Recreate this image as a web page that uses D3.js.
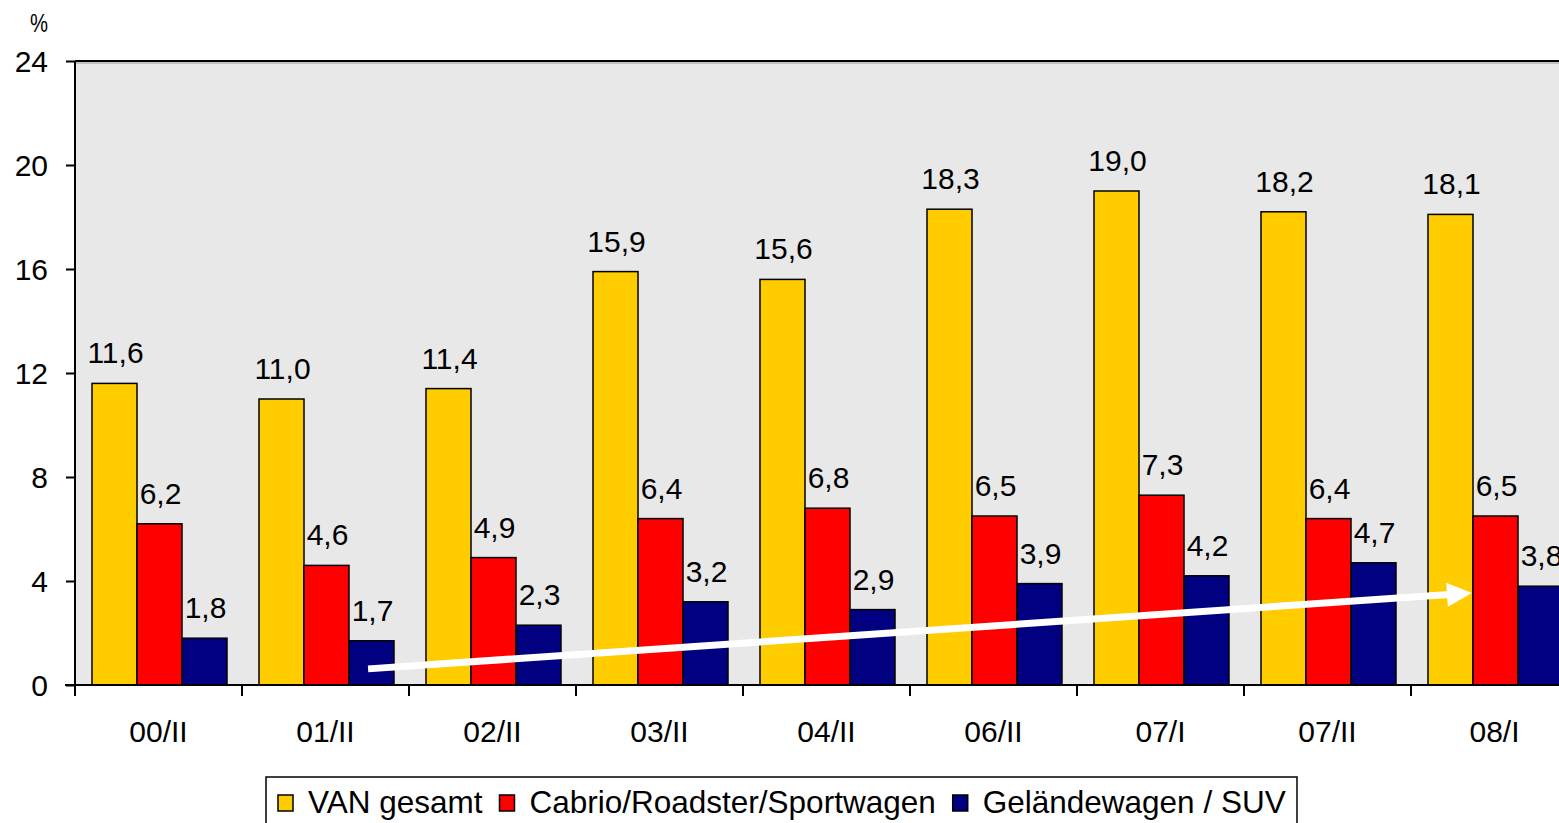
<!DOCTYPE html>
<html><head><meta charset="utf-8">
<script src="https://cdn.jsdelivr.net/npm/d3@7"></script>
<style>
html,body{margin:0;padding:0;background:#fff;}
svg{display:block;font-family:Arial,"Liberation Sans",sans-serif;}
</style></head>
<body>
<svg id="chart" width="1559" height="823"></svg>
<script>
const categories = ["00/II","01/II","02/II","03/II","04/II","06/II","07/I","07/II","08/I"];
const seriesNames = ["VAN gesamt","Cabrio/Roadster/Sportwagen","Geländewagen / SUV"];
const vanValues = [11.6,11.0,11.4,15.9,15.6,18.3,19.0,18.2,18.1];
const cabrioValues = [6.2,4.6,4.9,6.4,6.8,6.5,7.3,6.4,6.5];
const suvValues = [1.8,1.7,2.3,3.2,2.9,3.9,4.2,4.7,3.8];
const seriesColors = ["#FFCC00","#FF0000","#000080"];
const yTicks = [0,4,8,12,16,20,24];
// trend arrow: [category, fraction within band, value]
const arrowStart = ["01/II",0.755,0.62];
const arrowEnd = ["08/I",0.365,3.54];

const series = [vanValues,cabrioValues,suvValues];
const svg = d3.select("#chart");
const pLeft = 75, pTop = 61, pBottom = 685;
const band = 167;
const x = d3.scaleBand().domain(categories).range([pLeft, pLeft + band*categories.length]).paddingInner(0).paddingOuter(0);
const inner = d3.scaleBand().domain(d3.range(3)).range([17, 17+135]).padding(0);
const y = d3.scaleLinear().domain([0,24]).range([pBottom, pTop]);

// plot background
svg.append("rect").attr("x",pLeft).attr("y",pTop).attr("width",x.range()[1]-pLeft).attr("height",pBottom-pTop).attr("fill","#E8E8E8");
// top border
svg.append("line").attr("x1",pLeft).attr("x2",x.range()[1]).attr("y1",pTop).attr("y2",pTop).attr("stroke","#000").attr("stroke-width",2);
svg.append("line").attr("x1",pLeft).attr("x2",x.range()[1]).attr("y1",pTop+2).attr("y2",pTop+2).attr("stroke","#999").attr("stroke-width",1);

// bars
series.forEach((vals,si)=>{
  svg.append("g").selectAll("rect").data(vals).join("rect")
    .attr("x",(d,i)=>x(categories[i])+inner(si))
    .attr("y",d=>y(d))
    .attr("width",inner.bandwidth())
    .attr("height",d=>pBottom-y(d))
    .attr("fill",seriesColors[si])
    .attr("stroke","#000").attr("stroke-width",1.5);
  svg.append("g").selectAll("text").data(vals).join("text")
    .attr("x",(d,i)=>x(categories[i])+inner(si)+inner.bandwidth()/2+1)
    .attr("y",d=>y(d)-20)
    .attr("text-anchor","middle")
    .attr("font-size",30).attr("fill","#000")
    .text(d=>d.toFixed(1).replace(".",","));
});

// y axis
const yAxis = d3.axisLeft(y).tickValues(yTicks).tickSize(9).tickPadding(18);
const gy = svg.append("g").attr("transform",`translate(${pLeft},0)`).call(yAxis);
gy.select(".domain").attr("stroke","#000").attr("stroke-width",2).attr("d",`M0,${pTop}V${pBottom+11}`);
gy.selectAll(".tick line").attr("stroke","#000").attr("stroke-width",2);
gy.selectAll(".tick text").attr("font-size",30).attr("font-family","Arial, 'Liberation Sans', sans-serif").attr("fill","#000").attr("dy","0.36em");

// x axis
const xAxis = d3.axisBottom(x).tickSize(0).tickPadding(30);
const gx = svg.append("g").attr("transform",`translate(0,${pBottom})`).call(xAxis);
gx.select(".domain").attr("stroke","#000").attr("stroke-width",2).attr("d",`M${pLeft-10},0H${x.range()[1]}`);
gx.selectAll(".tick text").attr("font-size",30).attr("font-family","Arial, 'Liberation Sans', sans-serif").attr("fill","#000").attr("dy","0.71em").attr("y",36);
// category separators
svg.append("g").selectAll("line").data(categories.concat([null])).join("line")
  .attr("x1",(d,i)=>pLeft+i*x.bandwidth()).attr("x2",(d,i)=>pLeft+i*x.bandwidth())
  .attr("y1",pBottom).attr("y2",pBottom+11).attr("stroke","#000").attr("stroke-width",2);

// percent label
svg.append("text").attr("x",30).attr("y",32).attr("font-size",25).attr("textLength",18).attr("lengthAdjust","spacingAndGlyphs").text("%");

// arrow
const ax1 = x(arrowStart[0])+x.bandwidth()*arrowStart[1], ay1 = y(arrowStart[2]);
const ax2 = x(arrowEnd[0])+x.bandwidth()*arrowEnd[1], ay2 = y(arrowEnd[2]);
const ang = Math.atan2(ay2-ay1, ax2-ax1);
const headLen = 25, headW = 12;
const bx = ax2 - headLen*Math.cos(ang), by = ay2 - headLen*Math.sin(ang);
svg.append("line").attr("x1",ax1).attr("y1",ay1).attr("x2",bx+2*Math.cos(ang)).attr("y2",by+2*Math.sin(ang))
  .attr("stroke","#fff").attr("stroke-width",7);
svg.append("path").attr("d",d3.line()([
  [ax2,ay2],
  [bx - headW*Math.sin(ang), by + headW*Math.cos(ang)],
  [bx + headW*Math.sin(ang), by - headW*Math.cos(ang)]
])+"Z").attr("fill","#fff");

// legend
const lg = svg.append("g");
lg.append("rect").attr("x",266).attr("y",777).attr("width",1031).attr("height",60).attr("fill","#fff").attr("stroke","#000").attr("stroke-width",1.5);
let lx = 278;
seriesNames.forEach((name,i)=>{
  lg.append("rect").attr("x",lx).attr("y",795).attr("width",15).attr("height",16).attr("fill",seriesColors[i]).attr("stroke","#000").attr("stroke-width",1.5);
  const t = lg.append("text").attr("x",lx+30).attr("y",813).attr("font-size",31.5).attr("fill","#000").text(name);
  const w = t.node().getComputedTextLength();
  lx = lx + 30 + w + 17;
});
</script>
</body></html>
